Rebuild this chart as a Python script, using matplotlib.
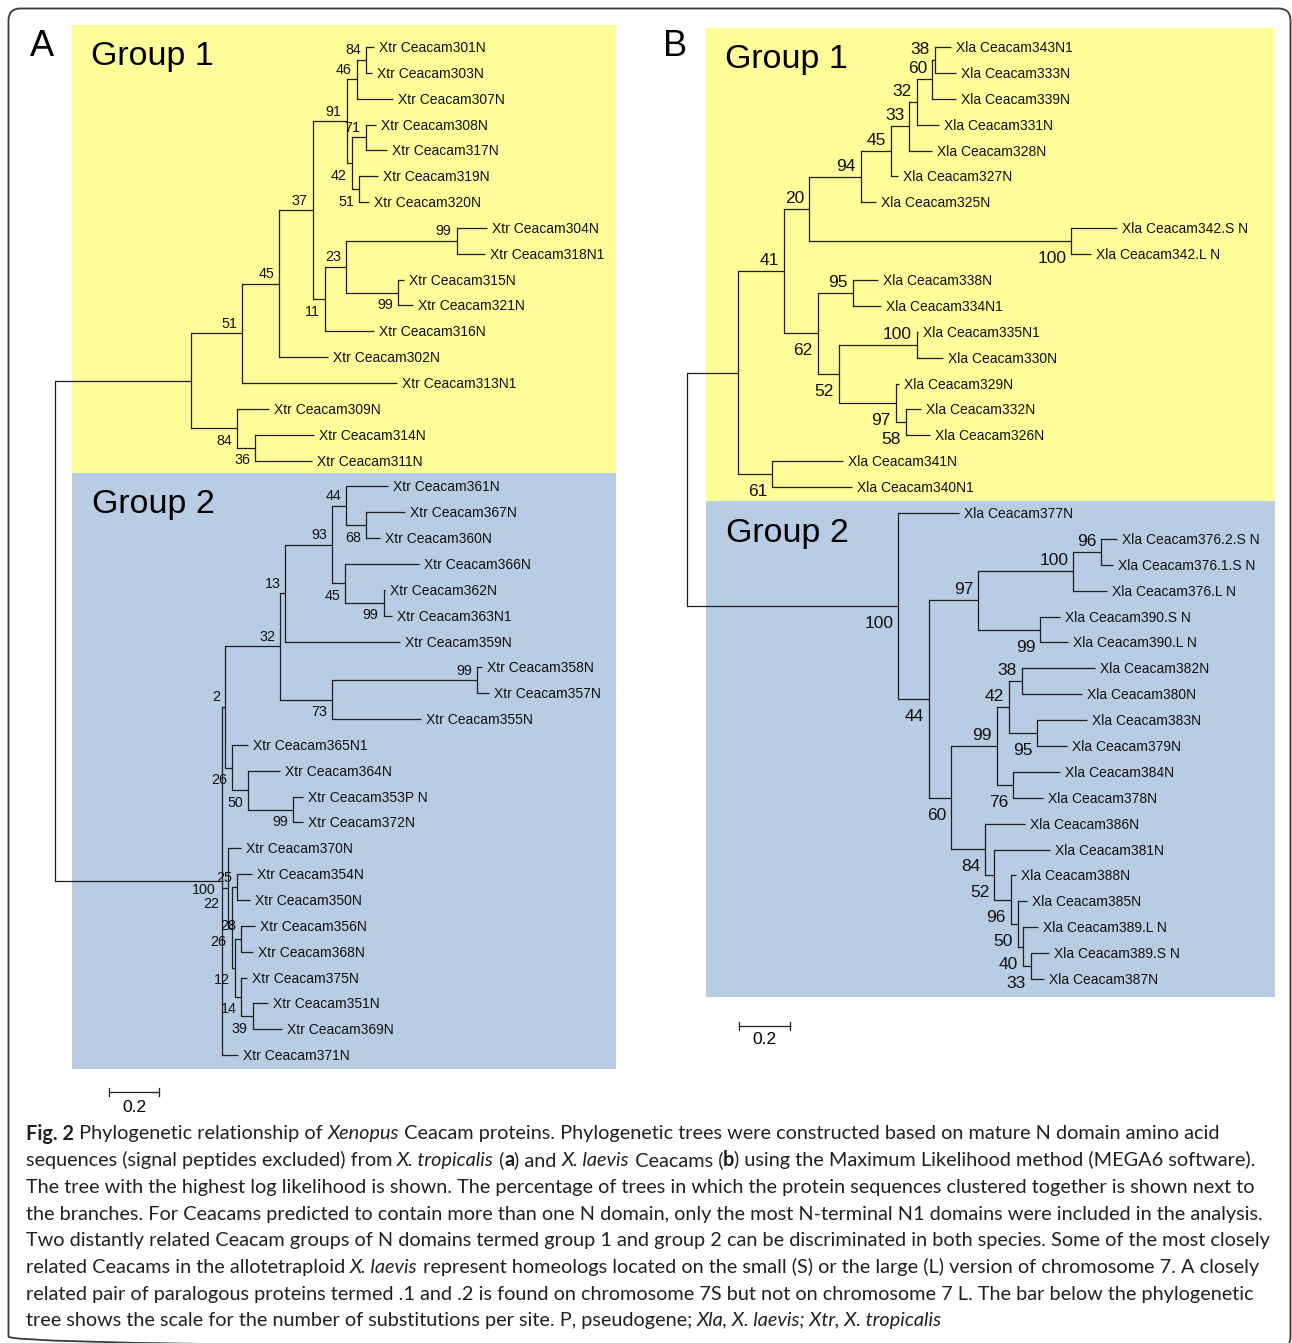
import matplotlib
matplotlib.use("Agg")
import matplotlib.pyplot as plt
from matplotlib.patches import Rectangle, FancyBboxPatch
from matplotlib.font_manager import FontProperties
from matplotlib.transforms import blended_transform_factory

plt.rcParams['font.family'] = ['Liberation Sans', 'DejaVu Sans']

# ---------------- data: panel A (X. tropicalis) ----------------
A_TIPS = ['301N', '303N', '307N', '308N', '317N', '319N', '320N', '304N', '318N1',
          '315N', '321N', '316N', '302N', '313N1', '309N', '314N', '311N',
          '361N', '367N', '360N', '366N', '362N', '363N1', '359N', '358N', '357N',
          '355N', '365N1', '364N', '353P N', '372N', '370N', '354N', '350N', '356N',
          '368N', '375N', '351N', '369N', '371N']

A_KIDS = {
    'root': ['g1', 'g2'],
    'g1': ['n51', 'n84b'], 'n51': ['n45', '313N1'], 'n45': ['n37', '302N'],
    'n37': ['n91', 'n11'], 'n91': ['n46', 'n42'], 'n46': ['n84a', '307N'],
    'n84a': ['301N', '303N'], 'n42': ['n71', 'n51b'], 'n71': ['308N', '317N'],
    'n51b': ['319N', '320N'], 'n11': ['n23', '316N'], 'n23': ['n99a', 'n99b'],
    'n99a': ['304N', '318N1'], 'n99b': ['315N', '321N'], 'n84b': ['309N', 'n36'],
    'n36': ['314N', '311N'],
    'g2': ['n2', 'n22', '371N'], 'n2': ['n32', 'n26a'], 'n32': ['n13', 'n73'],
    'n13': ['n93', '359N'], 'n93': ['n44', 'n45b'], 'n44': ['361N', 'n68'],
    'n68': ['367N', '360N'], 'n45b': ['366N', 'n99c'], 'n99c': ['362N', '363N1'],
    'n73': ['n99d', '355N'], 'n99d': ['358N', '357N'], 'n26a': ['365N1', 'n50'],
    'n50': ['364N', 'n99e'], 'n99e': ['353P N', '372N'], 'n22': ['370N', 'n26b'],
    'n26b': ['n25', 'n12'], 'n25': ['354N', '350N'], 'n12': ['n28', 'n14'],
    'n28': ['356N', '368N'], 'n14': ['375N', 'n39'], 'n39': ['351N', '369N'],
}

# distance from the root, substitutions per site
A_DEPTH = {
    'root': 0.0, 'g1': 0.545, 'n51': 0.747, 'n45': 0.896, 'n37': 1.029, 'n91': 1.164,
    'n46': 1.204, 'n84a': 1.243, '301N': 1.271, '303N': 1.263, '307N': 1.350,
    'n42': 1.184, 'n71': 1.240, '308N': 1.279, '317N': 1.323, 'n51b': 1.213,
    '319N': 1.287, '320N': 1.251, 'n11': 1.079, 'n23': 1.163, 'n99a': 1.602,
    '304N': 1.723, '318N1': 1.717, 'n99b': 1.369, '315N': 1.392, '321N': 1.428,
    '316N': 1.271, '302N': 1.090, '313N1': 1.365, 'n84b': 0.728, '309N': 0.854,
    'n36': 0.799, '314N': 1.035, '311N': 1.024,
    'g2': 0.666, 'n2': 0.681, 'n32': 0.899, 'n13': 0.920, 'n93': 1.105, 'n44': 1.161,
    '361N': 1.327, 'n68': 1.243, '367N': 1.398, '360N': 1.295, 'n45b': 1.157,
    '366N': 1.454, 'n99c': 1.311, '362N': 1.316, '363N1': 1.343, '359N': 1.375,
    'n73': 1.105, 'n99d': 1.683, '358N': 1.703, '357N': 1.731, '355N': 1.459,
    'n26a': 0.708, '365N1': 0.772, 'n50': 0.772, '364N': 0.898, 'n99e': 0.951,
    '353P N': 0.991, '372N': 0.991, 'n22': 0.690, '370N': 0.742, 'n26b': 0.708,
    'n25': 0.729, '354N': 0.786, '350N': 0.777, 'n12': 0.719, 'n28': 0.742,
    '356N': 0.798, '368N': 0.790, 'n14': 0.745, '375N': 0.766, 'n39': 0.790,
    '351N': 0.850, '369N': 0.908, '371N': 0.732,
}

A_SUPPORT = {
    'n51': 51, 'n45': 45, 'n37': 37, 'n91': 91, 'n46': 46, 'n84a': 84, 'n42': 42,
    'n71': 71, 'n51b': 51, 'n11': 11, 'n23': 23, 'n99a': 99, 'n99b': 99, 'n84b': 84,
    'n36': 36, 'g2': 100, 'n2': 2, 'n32': 32, 'n13': 13, 'n93': 93, 'n44': 44,
    'n68': 68, 'n45b': 45, 'n99c': 99, 'n73': 73, 'n99d': 99, 'n26a': 26, 'n50': 50,
    'n99e': 99, 'n22': 22, 'n26b': 26, 'n25': 25, 'n12': 12, 'n28': 28, 'n14': 14,
    'n39': 39,
}

# ---------------- data: panel B (X. laevis) ----------------
B_TIPS = ['343N1', '333N', '339N', '331N', '328N', '327N', '325N', '342.S N', '342.L N',
          '338N', '334N1', '335N1', '330N', '329N', '332N', '326N', '341N', '340N1',
          '377N', '376.2.S N', '376.1.S N', '376.L N', '390.S N', '390.L N', '382N',
          '380N', '383N', '379N', '384N', '378N', '386N', '381N', '388N', '385N',
          '389.L N', '389.S N', '387N']

B_KIDS = {
    'root': ['g1', 'g2'],
    'g1': ['n41', 'n61'], 'n41': ['n20', 'n62'], 'n20': ['n94', 'n100a'],
    'n94': ['n45', '325N'], 'n45': ['n33', '327N'], 'n33': ['n32', '328N'],
    'n32': ['n60', '331N'], 'n60': ['n38', '339N'], 'n38': ['343N1', '333N'],
    'n100a': ['342.S N', '342.L N'], 'n62': ['n95', 'n52'], 'n95': ['338N', '334N1'],
    'n52': ['n100b', 'n97'], 'n100b': ['335N1', '330N'], 'n97': ['329N', 'n58'],
    'n58': ['332N', '326N'], 'n61': ['341N', '340N1'],
    'g2': ['377N', 'n44'], 'n44': ['n97b', 'n60b'], 'n97b': ['n100c', 'n99a'],
    'n100c': ['n96a', '376.L N'], 'n96a': ['376.2.S N', '376.1.S N'],
    'n99a': ['390.S N', '390.L N'], 'n60b': ['n99b', 'n84'], 'n99b': ['n42', 'n76'],
    'n42': ['n38b', 'n95b'], 'n38b': ['382N', '380N'], 'n95b': ['383N', '379N'],
    'n76': ['384N', '378N'], 'n84': ['386N', 'n52b'], 'n52b': ['381N', 'n96b'],
    'n96b': ['388N', 'n50'], 'n50': ['385N', 'n40'], 'n40': ['389.L N', 'n33b'],
    'n33b': ['389.S N', '387N'],
}

B_DEPTH = {
    'root': 0.0, 'g1': 0.204, 'n41': 0.388, 'n20': 0.488, 'n94': 0.693, 'n45': 0.814,
    'n33': 0.887, 'n32': 0.917, 'n60': 0.977, 'n38': 0.988, '343N1': 1.052,
    '333N': 1.072, '339N': 1.072, '331N': 1.006, '328N': 0.978, '327N': 0.843,
    '325N': 0.753, 'n100a': 1.533, '342.S N': 1.716, '342.L N': 1.610, 'n62': 0.522,
    'n95': 0.662, '338N': 0.762, '334N1': 0.775, 'n52': 0.607, 'n100b': 0.918,
    '335N1': 0.921, '330N': 1.023, 'n97': 0.832, '329N': 0.845, 'n58': 0.874,
    '332N': 0.933, '326N': 0.971, 'n61': 0.341, '341N': 0.623, '340N1': 0.659,
    'g2': 0.843, '377N': 1.083, 'n44': 0.965, 'n97b': 1.161, 'n100c': 1.541,
    'n96a': 1.651, '376.2.S N': 1.716, '376.1.S N': 1.700, '376.L N': 1.675,
    'n99a': 1.409, '390.S N': 1.487, '390.L N': 1.520, 'n60b': 1.053, 'n99b': 1.235,
    'n42': 1.284, 'n38b': 1.335, '382N': 1.627, '380N': 1.574, 'n95b': 1.397,
    '383N': 1.596, '379N': 1.514, 'n76': 1.301, '384N': 1.487, '378N': 1.421,
    'n84': 1.189, '386N': 1.349, 'n52b': 1.226, '381N': 1.447, 'n96b': 1.292,
    '388N': 1.313, 'n50': 1.320, '385N': 1.357, 'n40': 1.341, '389.L N': 1.398,
    'n33b': 1.370, '389.S N': 1.442, '387N': 1.425,
}

B_SUPPORT = {
    'n41': 41, 'n20': 20, 'n94': 94, 'n45': 45, 'n33': 33, 'n32': 32, 'n60': 60,
    'n38': 38, 'n100a': 100, 'n62': 62, 'n95': 95, 'n52': 52, 'n100b': 100, 'n97': 97,
    'n58': 58, 'n61': 61, 'g2': 100, 'n44': 44, 'n97b': 97, 'n100c': 100, 'n96a': 96,
    'n99a': 99, 'n60b': 60, 'n99b': 99, 'n42': 42, 'n38b': 38, 'n95b': 95, 'n76': 76,
    'n84': 84, 'n52b': 52, 'n96b': 96, 'n50': 50, 'n40': 40, 'n33b': 33,
}

CAPTION = [
    [("Fig. 2", "b"), (" Phylogenetic relationship of ", "r"), ("Xenopus", "i"),
     (" Ceacam proteins. Phylogenetic trees were constructed based on mature N domain amino acid", "r")],
    [("sequences (signal peptides excluded) from ", "r"), ("X. tropicalis", "i"), (" (", "r"),
     ("a", "b"), (") and ", "r"), ("X. laevis", "i"), (" Ceacams (", "r"), ("b", "b"),
     (") using the Maximum Likelihood method (MEGA6 software).", "r")],
    [("The tree with the highest log likelihood is shown. The percentage of trees in which the protein sequences clustered together is shown next to", "r")],
    [("the branches. For Ceacams predicted to contain more than one N domain, only the most N-terminal N1 domains were included in the analysis.", "r")],
    [("Two distantly related Ceacam groups of N domains termed group 1 and group 2 can be discriminated in both species. Some of the most closely", "r")],
    [("related Ceacams in the allotetraploid ", "r"), ("X. laevis", "i"),
     (" represent homeologs located on the small (S) or the large (L) version of chromosome 7. A closely", "r")],
    [("related pair of paralogous proteins termed .1 and .2 is found on chromosome 7S but not on chromosome 7 L. The bar below the phylogenetic", "r")],
    [("tree shows the scale for the number of substitutions per site. P, pseudogene; ", "r"),
     ("Xla, X. laevis; Xtr, X. tropicalis", "i")],
]

# ---------------- layout ----------------
W, H = 1292, 1343
PX_PER_SUB = 251
LINE = '#1e1e1e'
YELLOW = '#fffd99'
BLUE = '#b8cce4'

fig = plt.figure(figsize=(W / 100, H / 100), dpi=100)
base = fig.add_axes([0, 0, 1, 1])
base.set_xlim(0, W)
base.set_ylim(H, 0)
base.axis('off')

for x0, y0, x1, y1, c in [(72, 25, 616, 473, YELLOW), (72, 473, 616, 1069, BLUE),
                          (705.5, 28, 1275, 500.5, YELLOW), (705.5, 500.5, 1275, 996.5, BLUE)]:
    base.add_patch(Rectangle((x0, y0), x1 - x0, y1 - y0, facecolor=c, edgecolor='none'))

base.add_patch(FancyBboxPatch((8.5, 8.5), 1282, 1340, boxstyle="round,pad=0,rounding_size=12",
                              facecolor='none', edgecolor='#3a3a3a', lw=1.3))

base.text(30, 56, "A", fontsize=26, va='baseline')
base.text(663, 56, "B", fontsize=26, va='baseline')
for x, y, s in [(91, 65, "Group 1"), (92, 513, "Group 2"), (725, 68, "Group 1"), (726, 542, "Group 2")]:
    base.text(x, y, s, fontsize=24.5, va='baseline')


def node_rows(tips, kids):
    row = {t: i for i, t in enumerate(tips)}

    def place(n):
        if n not in row:
            ys = [place(c) for c in kids[n]]
            row[n] = (ys[0] + ys[-1]) / 2
        return row[n]
    place('root')
    return row


def panel_axes(root_px, top_px, step):
    ax = fig.add_axes([0, 0, 1, 1], facecolor='none', label='tree%d' % root_px)
    ax.set_xlim(-root_px / PX_PER_SUB, (W - root_px) / PX_PER_SUB)
    ax.set_ylim((H - top_px) / step, -top_px / step)
    ax.axis('off')
    return ax


def draw_tree(ax, tips, kids, depth, support, prefix, boot_size, up, down, above, nudge):
    row = node_rows(tips, kids)
    for n, ch in kids.items():
        ax.plot([depth[n], depth[n]], [row[ch[0]], row[ch[-1]]], color=LINE, lw=0.9,
                solid_capstyle='projecting')
        for c in ch:
            ax.plot([depth[n], depth[c]], [row[c], row[c]], color=LINE, lw=0.9,
                    solid_capstyle='butt')
    for t in tips:
        ax.annotate(prefix + t, (depth[t], row[t]), xytext=(5, -5), textcoords='offset pixels',
                    fontsize=10, ha='left', va='baseline', color='#111111')
    for n, v in support.items():
        off = nudge.get(n, (-5, up if n in above else down))
        ax.annotate(str(v), (depth[n], row[n]), xytext=off, textcoords='offset pixels',
                    fontsize=boot_size, ha='right', va='baseline', color='#111111')


def scale_bar(ax, x0, y, label_y):
    tr = blended_transform_factory(ax.transData, base.transData)
    ax.plot([x0, x0 + 0.2], [y, y], color=LINE, lw=0.9, transform=tr)
    for xx in (x0, x0 + 0.2):
        ax.plot([xx, xx], [y - 4, y + 4], color=LINE, lw=0.9, transform=tr)
    ax.text(x0 + 0.1, label_y, "0.2", transform=tr, ha='center', va='baseline', fontsize=12.5)


A_ABOVE = {'n51', 'n45', 'n37', 'n91', 'n46', 'n84a', 'n71', 'n23', 'n99a', 'n2', 'n32',
           'n13', 'n93', 'n44', 'n99d', 'n25', 'n28'}
B_ABOVE = {'n41', 'n20', 'n94', 'n45', 'n33', 'n32', 'n60', 'n38', 'n95', 'n100b',
           'n97b', 'n100c', 'n96a', 'n99b', 'n42', 'n38b'}
# crowded labels near the base of group 2 in panel A (offsets in pixels)
A_NUDGE = {'g2': (-6, -12.5), 'n22': (-8, -20), 'n26b': (-6, -18), 'n28': (-5, 8.5)}

axA = panel_axes(54.5, 47, 25.85)
draw_tree(axA, A_TIPS, A_KIDS, A_DEPTH, A_SUPPORT, "Xtr Ceacam", 10.3, 5.5, -16.5,
          A_ABOVE, A_NUDGE)
scale_bar(axA, (109 - 54.5) / PX_PER_SUB, 1092, 1112)

axB = panel_axes(686.7, 47, 25.89)
draw_tree(axB, B_TIPS, B_KIDS, B_DEPTH, B_SUPPORT, "Xla Ceacam", 12.5, 6, -22,
          B_ABOVE, {})
scale_bar(axB, (739.5 - 686.7) / PX_PER_SUB, 1025.5, 1044)

# ---------------- caption ----------------
renderer = fig.canvas.get_renderer()


def font(style, size):
    return FontProperties(family='Lato', size=size,
                          weight='bold' if style == 'b' else 'normal',
                          style='italic' if style == 'i' else 'normal')


def advance(s, fp):
    w2 = renderer.get_text_width_height_descent('|' + s + '|', fp, ismath=False)[0]
    w0 = renderer.get_text_width_height_descent('||', fp, ismath=False)[0]
    return w2 - w0


size = 13.0
w1 = sum(advance(s, font(st, size)) for s, st in CAPTION[0])
size = size * 1193 / w1

for k, line in enumerate(CAPTION):
    x = 25.5
    y = 1139.5 + 26.7 * k
    for s, st in line:
        fp = font(st, size)
        base.text(x, y, s, fontproperties=fp, va='baseline', ha='left', color='#231f20')
        x += advance(s, fp)

fig.savefig("out.png", dpi=100)
